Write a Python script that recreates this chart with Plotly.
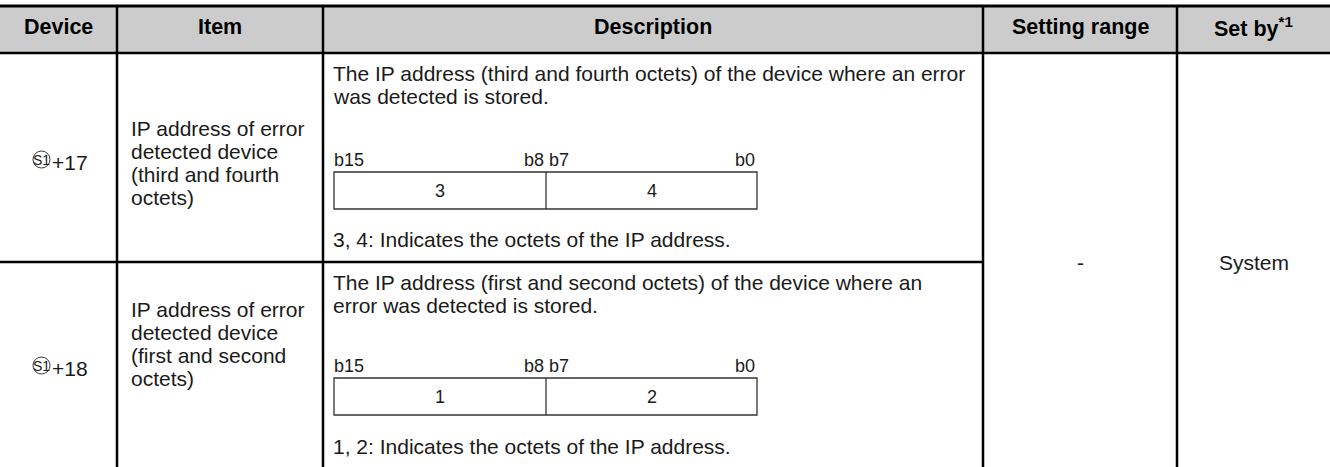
import plotly.graph_objects as go

# ---------------- data ----------------
headers = ["Device", "Item", "Description", "Setting range", "Set by<sup>*1</sup>"]
device_suffix = ["+17", "+18"]
device_symbol = "S1"
item_lines = [
    ["IP address of error", "detected device", "(third and fourth", "octets)"],
    ["IP address of error", "detected device", "(first and second", "octets)"],
]
desc_lines = [
    ["The IP address (third and fourth octets) of the device where an error",
     "was detected is stored."],
    ["The IP address (first and second octets) of the device where an",
     "error was detected is stored."],
]
bit_labels = ["b15", "b8 b7", "b0"]
box_values = [["3", "4"], ["1", "2"]]
notes = ["3, 4: Indicates the octets of the IP address.",
         "1, 2: Indicates the octets of the IP address."]
setting_range = "-"
set_by = "System"

# ---------------- layout geometry ----------------
W, H = 1330, 467
col_x = [0, 117, 323, 983, 1177, 1330]
top_y, head_y, row_div, bot_y = 6, 53, 262, 475
row_tops = [head_y, row_div]
box_tops = [172, 378]
box_h = 37
note_y = [239, 446]
dev_y = [162, 368]
item_y0 = [128, 309]
FONT = "Arial, 'Liberation Sans', sans-serif"
BODY = 21
SMALL = 18

fig = go.Figure()
shapes = []
ann = []

# header background
shapes.append(dict(type="rect", x0=0, x1=W, y0=top_y, y1=head_y,
                   fillcolor="#cccccc", line=dict(width=0), layer="below"))

def line(x0, y0, x1, y1, w=2.5, c="black"):
    shapes.append(dict(type="line", x0=x0, y0=y0, x1=x1, y1=y1,
                       line=dict(color=c, width=w)))

line(0, top_y, W, top_y, 3)
line(0, head_y, W, head_y, 2.5)
line(0, row_div, col_x[3], row_div, 2.5)
for cx in col_x[1:5]:
    line(cx, top_y, cx, bot_y, 2.5)

def text(x, y, s, size=BODY, anchor="left", bold=False, color="#1a1a1a"):
    ann.append(dict(x=x, y=y, text=("<b>%s</b>" % s) if bold else s,
                    showarrow=False, xanchor=anchor, yanchor="middle",
                    font=dict(family=FONT, size=size, color=color)))

# headers
for i, h in enumerate(headers):
    text((col_x[i] + col_x[i + 1]) / 2, 27, h, size=21.5, anchor="center", bold=True, color="black")

line_gap = 23
for r in range(2):
    base = row_tops[r]
    # device: circled S1 + suffix
    cy = dev_y[r]
    shapes.append(dict(type="circle", x0=33, x1=50, y0=cy - 11, y1=cy + 6,
                       line=dict(color="#333", width=1)))
    text(41.5, cy - 2.5, device_symbol, size=14, anchor="center")
    text(50, cy, device_suffix[r], size=BODY)
    # item
    for k, s in enumerate(item_lines[r]):
        text(129, item_y0[r] + k * line_gap, s)
    # description lines
    for k, s in enumerate(desc_lines[r]):
        text(331, base + 20 + k * 23.5, s)
    # bit labels
    by0 = box_tops[r]
    by1 = by0 + box_h
    ly = by0 - 12
    text(332, ly, bit_labels[0], size=SMALL)
    text(546, ly, bit_labels[1], size=SMALL, anchor="center")
    text(757, ly, bit_labels[2], size=SMALL, anchor="right")
    # bit box
    shapes.append(dict(type="rect", x0=334, x1=757, y0=by0, y1=by1,
                       line=dict(color="#333", width=1.3)))
    line(546, by0, 546, by1, 1.3, "#333")
    text((334 + 546) / 2, (by0 + by1) / 2, box_values[r][0], size=SMALL, anchor="center")
    text((546 + 757) / 2, (by0 + by1) / 2, box_values[r][1], size=SMALL, anchor="center")
    # note
    text(331, note_y[r], notes[r])

text((col_x[3] + col_x[4]) / 2, 262, setting_range, anchor="center")
text((col_x[4] + col_x[5]) / 2, 262, set_by, anchor="center")

fig.update_layout(
    width=W, height=H, margin=dict(l=0, r=0, t=0, b=0),
    paper_bgcolor="white", plot_bgcolor="white",
    xaxis=dict(range=[0, W], visible=False, fixedrange=True),
    yaxis=dict(range=[H, 0], visible=False, fixedrange=True),
    shapes=shapes, annotations=ann, showlegend=False,
)
fig.write_html("out.html", config={"displayModeBar": False},
               post_script="document.body.style.margin='0';document.body.style.overflow='hidden';")
